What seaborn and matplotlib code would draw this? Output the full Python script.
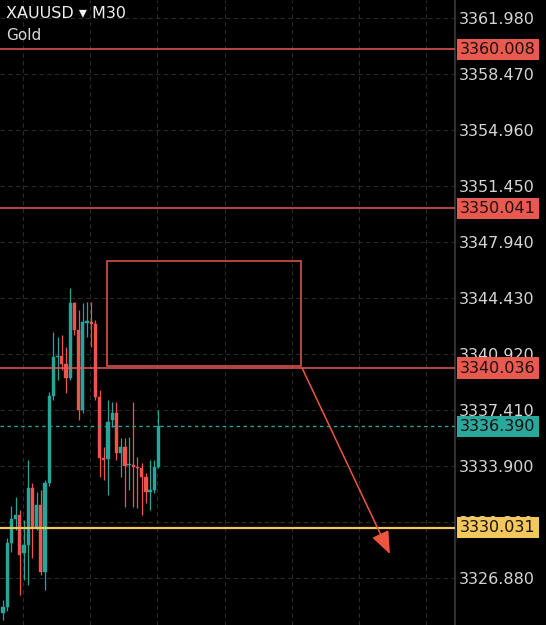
import matplotlib
matplotlib.use("Agg")
import matplotlib.pyplot as plt
import matplotlib.transforms as mtransforms
from matplotlib.patches import Rectangle
import seaborn as sns

# 30 min candles
opens  = [3324.67, 3325.05, 3329.06, 3330.57, 3330.82, 3328.44, 3328.94, 3332.51, 3330.07, 3331.45,
          3327.24, 3332.82, 3338.28, 3340.72, 3340.79, 3340.29, 3339.41, 3344.11, 3342.42, 3337.40,
          3342.86, 3342.92, 3342.79, 3338.22, 3334.39, 3334.33, 3336.77, 3337.21, 3334.71, 3335.08,
          3333.95, 3333.95, 3333.83, 3333.76, 3333.20, 3332.26, 3332.39, 3333.83]
highs  = [3325.49, 3329.38, 3331.38, 3331.95, 3331.13, 3330.50, 3334.27, 3332.82, 3332.26, 3332.39,
          3333.01, 3338.53, 3342.29, 3341.98, 3342.10, 3341.35, 3345.05, 3344.17, 3343.67, 3344.11,
          3344.17, 3344.17, 3343.04, 3338.66, 3335.08, 3338.03, 3337.90, 3337.90, 3335.65, 3335.65,
          3335.71, 3337.90, 3334.45, 3334.08, 3333.45, 3334.27, 3334.27, 3337.40]
lows   = [3324.23, 3324.80, 3328.50, 3329.88, 3325.80, 3326.74, 3326.43, 3328.12, 3329.88, 3327.06,
          3326.12, 3332.63, 3338.03, 3339.28, 3339.91, 3338.47, 3339.28, 3342.10, 3336.77, 3337.21,
          3341.98, 3341.35, 3338.03, 3333.20, 3333.01, 3332.07, 3336.34, 3334.27, 3333.20, 3331.32,
          3332.39, 3331.32, 3331.26, 3330.82, 3331.57, 3331.13, 3332.20, 3333.76]
closes = [3325.05, 3329.06, 3330.57, 3330.82, 3328.31, 3328.94, 3332.51, 3330.07, 3331.45, 3327.24,
          3332.82, 3338.28, 3340.72, 3340.79, 3340.29, 3339.41, 3344.11, 3342.42, 3337.40, 3342.92,
          3342.98, 3342.80, 3338.22, 3334.39, 3334.27, 3336.65, 3337.21, 3334.71, 3335.08, 3333.89,
          3334.01, 3333.83, 3333.76, 3333.20, 3332.26, 3332.39, 3333.83, 3336.39]

price_ticks = [3326.880, 3330.390, 3333.900, 3337.410, 3340.920, 3344.430,
               3347.940, 3351.450, 3354.960, 3358.470, 3361.980]
grid_x = [4.75, 20.75, 36.75, 52.75, 68.75, 84.75, 100.75]

resistance = [3360.008, 3350.041, 3340.036]
support = 3330.031
last_price = 3336.390

# drawn zone + projection arrow (bar index, price)
zone_left, zone_right = 24.8, 71.0
zone_low, zone_high = 3340.16, 3346.74
arrow_from = (71.2, 3340.04)
arrow_to = (92.1, 3328.38)

GREEN = "#26a69a"
RED = "#ef5350"
LINE_RED = "#e85a50"
YELLOW = "#f2c75c"
BG = "#000000"

sns.set_theme(style="dark", rc={
    "axes.facecolor": BG,
    "figure.facecolor": BG,
    "axes.edgecolor": "#3a3a3a",
})
plt.rcParams["font.family"] = ["DejaVu Sans"]

fig = plt.figure(figsize=(5.46, 6.25), dpi=100)
ax = fig.add_axes([0, 0, 455 / 546, 1])

ax.set_xlim(-0.714, 107.6)
ax.set_ylim(3323.933, 3363.108)

# grid
for gx in grid_x:
    ax.axvline(gx, color="#2a2a2a", lw=0.8, ls=(0, (4, 3)), zorder=0)
for gy in price_ticks:
    ax.axhline(gy, color="#2a2a2a", lw=0.8, ls=(0, (4, 3)), zorder=0)

# candles
idx = list(range(len(opens)))
cols = [GREEN if c >= o else RED for o, c in zip(opens, closes)]
ax.vlines(idx, lows, highs, colors=cols, lw=0.9, zorder=2)
bottoms = [min(o, c) for o, c in zip(opens, closes)]
heights = [max(abs(c - o), 0.1) for o, c in zip(opens, closes)]
ax.bar(idx, heights, bottom=bottoms, width=0.8, color=cols, edgecolor=cols,
       linewidth=0.3, zorder=3)

# levels
for lv in resistance:
    ax.axhline(lv, color=LINE_RED, lw=1.1, zorder=4)
ax.axhline(support, color=YELLOW, lw=1.6, zorder=4)
ax.axhline(last_price, color=GREEN, lw=1.0, ls=(0, (2.5, 2.5)), zorder=4)

# zone + arrow
ax.add_patch(Rectangle((zone_left, zone_low), zone_right - zone_left, zone_high - zone_low,
                       fill=False, edgecolor=LINE_RED, lw=1.1, zorder=5))
ax.annotate("", xy=arrow_to, xytext=arrow_from,
            arrowprops=dict(arrowstyle="-|>,head_length=1.0,head_width=0.4",
                            color="#ee5540", lw=1.1, shrinkA=0, shrinkB=0,
                            mutation_scale=14), zorder=6)

# right price axis
ax.set_xticks([])
ax.yaxis.tick_right()
ax.set_yticks(price_ticks)
ax.set_yticklabels([f"{p:.3f}" for p in price_ticks])
ax.tick_params(axis="y", length=0, pad=3, labelsize=11.5, labelcolor="#d6d6d6")
ax.grid(False)
for side in ["top", "bottom", "left"]:
    ax.spines[side].set_visible(False)
ax.spines["right"].set_color("#3a3a3a")
ax.spines["right"].set_linewidth(1.2)

tr = mtransforms.blended_transform_factory(ax.transAxes, ax.transData)
tags = [(lv, LINE_RED) for lv in resistance] + [(last_price, "#2aa89c"), (support, YELLOW)]
for lv, c in tags:
    ax.text(1.011, lv, f"{lv:.3f}", transform=tr, ha="left", va="center",
            fontsize=11.5, color="#1c1010",
            bbox=dict(boxstyle="square,pad=0.2", fc=c, ec="none"),
            clip_on=False, zorder=10)

fig.text(6 / 546, 1 - 14 / 625, "XAUUSD \u25be M30", color="#f0f0f0", fontsize=11.5,
         ha="left", va="center")
fig.text(6 / 546, 1 - 35 / 625, "Gold", color="#d8d8d8", fontsize=11,
         ha="left", va="center")

fig.savefig("out.png", dpi=100, facecolor=BG)
